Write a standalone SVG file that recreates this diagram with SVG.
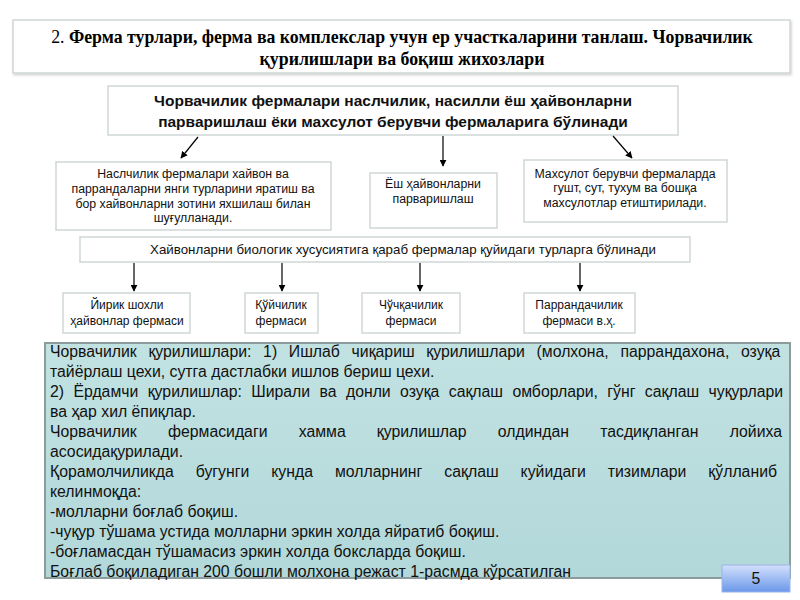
<svg xmlns="http://www.w3.org/2000/svg" width="800" height="600" viewBox="0 0 800 600">
<defs>
<marker id="ah" viewBox="0 0 10 10" refX="9" refY="5" markerWidth="7" markerHeight="7" orient="auto" markerUnits="userSpaceOnUse">
<path d="M0,0 L10,5 L0,10 z" fill="#000"/>
</marker>
<linearGradient id="tb" x1="0" y1="0" x2="0" y2="1">
<stop offset="0" stop-color="#c2e2e2"/>
<stop offset="1" stop-color="#b2d8da"/>
</linearGradient>
<linearGradient id="pg" x1="0" y1="0" x2="0" y2="1">
<stop offset="0" stop-color="#d4e0fb"/>
<stop offset="1" stop-color="#6a98ea"/>
</linearGradient>
<filter id="sh" x="-5%" y="-20%" width="110%" height="140%">
<feDropShadow dx="1" dy="1.5" stdDeviation="1.2" flood-color="#000" flood-opacity="0.18"/>
</filter>
</defs>
<style>
.box{fill:#fff;stroke:#cfd6d6;stroke-width:1.5}
.title{font-family:"Liberation Serif","Times New Roman",serif;font-size:17.8px;font-weight:bold;fill:#000}
.hd{font-family:"Liberation Sans",Arial,sans-serif;font-size:15.5px;font-weight:bold;fill:#111}
.sm{font-family:"Liberation Sans",Arial,sans-serif;font-size:12.3px;fill:#111}
.sb{font-family:"Liberation Sans",Arial,sans-serif;font-size:12px;fill:#111}
.bar{font-family:"Liberation Sans",Arial,sans-serif;font-size:13.3px;fill:#111}
.bd{font-family:"Liberation Sans",Arial,sans-serif;font-size:15.8px;fill:#111}
.cn{text-anchor:middle}
.conn line{stroke:#000;stroke-width:1.2;marker-end:url(#ah)}
</style>
<rect width="800" height="600" fill="#fff"/>

<g id="title">
<rect x="13" y="20" width="777" height="53" class="box" filter="url(#sh)"/>
<text class="title cn" x="402" y="43"><tspan font-weight="normal">2.</tspan> Ферма турлари, ферма ва комплекслар учун ер участкаларини танлаш. Чорвачилик</text>
<text class="title cn" x="402" y="65">қурилишлари ва боқиш жихозлари</text>
</g>

<g id="top">
<rect x="108" y="86" width="570" height="49" class="box"/>
<text class="hd cn" x="393" y="106">Чорвачилик фермалари наслчилик, насилли ёш ҳайвонларни</text>
<text class="hd cn" x="393" y="127">парваришлаш ёки махсулот берувчи фермаларига бўлинади</text>
</g>

<g id="boxA">
<rect x="56" y="162" width="275" height="68" class="box"/>
<text class="sm cn" x="193" y="178">Наслчилик фермалари хайвон ва</text>
<text class="sm cn" x="193" y="193">паррандаларни янги турларини яратиш ва</text>
<text class="sm cn" x="193" y="208">бор хайвонларни зотини яхшилаш билан</text>
<text class="sm cn" x="193" y="222">шуғулланади.</text>
</g>

<g id="boxB">
<rect x="370" y="173" width="127" height="55" class="box"/>
<text class="sm cn" x="433" y="188">Ёш ҳайвонларни</text>
<text class="sm cn" x="433" y="203">парваришлаш</text>
</g>

<g id="boxC">
<rect x="524" y="160" width="203" height="62" class="box"/>
<text class="sm cn" x="625" y="178">Махсулот берувчи фермаларда</text>
<text class="sm cn" x="625" y="192">гушт, сут, тухум ва бошқа</text>
<text class="sm cn" x="625" y="207">махсулотлар етиштирилади.</text>
</g>

<g id="bar">
<rect x="80" y="237" width="610" height="25" class="box"/>
<text class="bar cn" x="403" y="254">Хайвонларни биологик хусусиятига қараб фермалар қуйидаги турларга бўлинади</text>
</g>

<g id="boxD">
<rect x="63" y="293" width="127" height="40" class="box"/>
<text class="sb cn" x="127" y="309">Йирик шохли</text>
<text class="sb cn" x="127" y="325">ҳайвонлар фермаси</text>
</g>
<g id="boxE">
<rect x="245" y="293" width="73" height="40" class="box"/>
<text class="sb cn" x="281" y="309">Қўйчилик</text>
<text class="sb cn" x="281" y="325">фермаси</text>
</g>
<g id="boxF">
<rect x="362" y="293" width="98" height="40" class="box"/>
<text class="sb cn" x="411" y="309">Чўчқачилик</text>
<text class="sb cn" x="411" y="325">фермаси</text>
</g>
<g id="boxG">
<rect x="524" y="293" width="111" height="40" class="box"/>
<text class="sb cn" x="579" y="309">Паррандачилик</text>
<text class="sb cn" x="579" y="325">фермаси в.ҳ.</text>
</g>

<g class="conn" id="connectors">
<line x1="198" y1="137" x2="181" y2="158"/>
<line x1="443" y1="136" x2="443" y2="166"/>
<line x1="613" y1="136" x2="632" y2="158"/>
<line x1="134" y1="263" x2="134" y2="291"/>
<line x1="282" y1="263" x2="282" y2="291"/>
<line x1="420" y1="263" x2="420" y2="291"/>
<line x1="580" y1="263" x2="580" y2="291"/>
</g>

<g id="textblock">
<rect x="45" y="343" width="745" height="235" fill="url(#tb)" stroke="#8c9c9c" stroke-width="2"/>
<text class="bd" x="50" y="357" word-spacing="7.3">Чорвачилик қурилишлари: 1) Ишлаб чиқариш қурилишлари (молхона, паррандахона, озуқа</text>
<text class="bd" x="50" y="377">тайёрлаш цехи, сутга дастлабки ишлов бериш цехи.</text>
<text class="bd" x="50" y="397" word-spacing="5">2) Ёрдамчи қурилишлар: Ширали ва донли озуқа сақлаш омборлари, гўнг сақлаш чуқурлари</text>
<text class="bd" x="50" y="417">ва ҳар хил ёпиқлар.</text>
<text class="bd" x="50" y="437" word-spacing="26.8">Чорвачилик фермасидаги хамма қурилишлар олдиндан тасдиқланган лойиха</text>
<text class="bd" x="50" y="457">асосидақурилади.</text>
<text class="bd" x="50" y="477" word-spacing="17.6">Қорамолчиликда бугунги кунда молларнинг сақлаш куйидаги тизимлари қўлланиб</text>
<text class="bd" x="50" y="497">келинмоқда:</text>
<text class="bd" x="50" y="517">-молларни боғлаб боқиш.</text>
<text class="bd" x="50" y="537">-чуқур тўшама устида молларни эркин холда яйратиб боқиш.</text>
<text class="bd" x="50" y="557">-боғламасдан тўшамасиз эркин холда боксларда боқиш.</text>
<text class="bd" x="50" y="577">Боғлаб боқиладиган 200 бошли молхона режаст 1-расмда кўрсатилган</text>
</g>

<g id="page">
<rect x="722" y="565" width="68" height="27" fill="url(#pg)" stroke="#9ab4ea" stroke-width="1"/>
<text class="bd cn" x="756" y="584" font-size="15">5</text>
</g>
</svg>
